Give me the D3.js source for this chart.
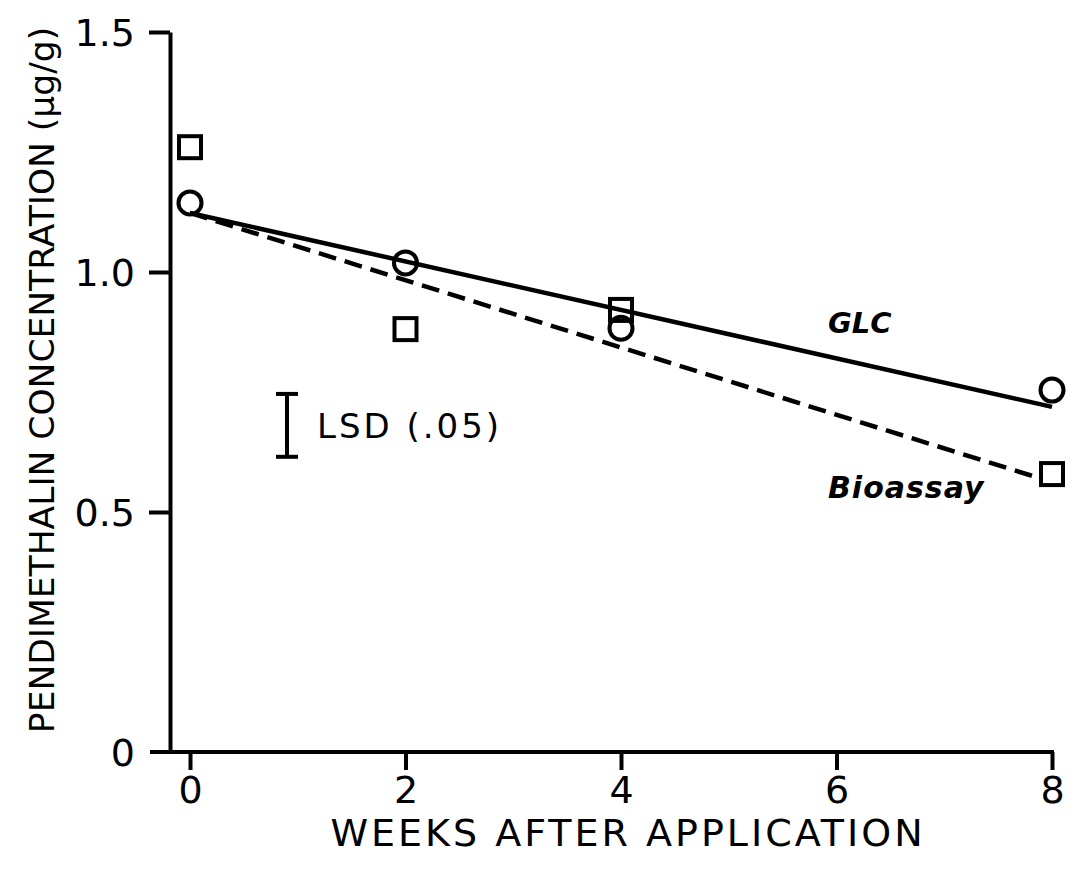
<!DOCTYPE html>
<html>
<head>
<meta charset="utf-8">
<script src="https://cdn.jsdelivr.net/npm/d3@7"></script>
<style>
  body { margin: 0; background: #fff; }
  svg { display: block; }
  .lbl { font-family: "DejaVu Sans", sans-serif; fill: #000; }
</style>
</head>
<body>
<svg id="chart" width="1081" height="876"></svg>
<script>
// weeks after application
const weeks = [0, 2, 4, 8];
// GLC (circles) and bioassay (squares), ug/g
const glcValues = [1.144, 1.019, 0.883, 0.754];
const bioValues = [1.26, 0.881, 0.921, 0.579];
// fitted regression lines, [week, value] end points
const glcFit = [[0, 1.123], [8, 0.719]];
const bioFit = [[0, 1.123], [7.85, 0.573]];
// LSD (.05) bar
const lsdWeek = 0.9;
const lsdRange = [0.615, 0.746];
const xTicks = [0, 2, 4, 6, 8];
const yTicks = [0, 0.5, 1.0, 1.5];
const yTickLabels = ["0", "0.5", "1.0", "1.5"];

const svg = d3.select("#chart");
const axisX = 170, axisY = 752;

const x = d3.scaleLinear().domain([0, 8]).range([190, 1052]);
const y = d3.scaleLinear().domain([0, 1.5]).range([axisY, 32]);

// y axis
const yAxis = svg.append("g")
    .attr("transform", `translate(${axisX},0)`)
    .call(d3.axisLeft(y)
        .tickValues(yTicks)
        .tickSize(21)
        .tickSizeOuter(0)
        .tickPadding(14)
        .tickFormat((d, i) => yTickLabels[i]));

// x axis
const xAxis = svg.append("g")
    .attr("transform", `translate(0,${axisY})`)
    .call(d3.axisBottom(x)
        .tickValues(xTicks)
        .tickSize(18)
        .tickSizeOuter(0)
        .tickPadding(6)
        .tickFormat(d3.format("d")));

// x axis baseline runs from left of the y axis to the last tick
xAxis.select(".domain")
    .attr("d", `M${axisX - 20},0H${x(8) + 2}`);

[yAxis, xAxis].forEach((g) => {
    g.select(".domain").attr("stroke", "#000").attr("stroke-width", 4);
    g.selectAll(".tick line").attr("stroke", "#000").attr("stroke-width", 4);
    g.selectAll(".tick text")
        .attr("class", "lbl")
        .style("font-family", '"DejaVu Sans", sans-serif')
        .style("font-size", "38px")
        .attr("fill", "#000");
});
yAxis.selectAll(".tick text").attr("dy", "0.36em");
xAxis.selectAll(".tick text").attr("dy", "0.72em");
yAxis.selectAll(".tick").filter((d) => d === 0).select("line").remove();

// fitted lines
const line = d3.line().x((d) => x(d[0])).y((d) => y(d[1]));

svg.append("path")
    .datum(glcFit)
    .attr("d", line)
    .attr("fill", "none")
    .attr("stroke", "#000")
    .attr("stroke-width", 4.5);

svg.append("path")
    .datum(bioFit)
    .attr("d", line)
    .attr("fill", "none")
    .attr("stroke", "#000")
    .attr("stroke-width", 4.5)
    .attr("stroke-dasharray", "18,9");

// markers
svg.append("g")
    .selectAll("circle")
    .data(weeks.map((w, i) => [w, glcValues[i]]))
    .join("circle")
    .attr("cx", (d) => x(d[0]))
    .attr("cy", (d) => y(d[1]))
    .attr("r", 11.5)
    .attr("fill", "none")
    .attr("stroke", "#000")
    .attr("stroke-width", 4);

const sq = 22;
svg.append("g")
    .selectAll("rect")
    .data(weeks.map((w, i) => [w, bioValues[i]]))
    .join("rect")
    .attr("x", (d) => x(d[0]) - sq / 2)
    .attr("y", (d) => y(d[1]) - sq / 2)
    .attr("width", sq)
    .attr("height", sq)
    .attr("fill", "none")
    .attr("stroke", "#000")
    .attr("stroke-width", 4);

// LSD bar
const lsd = svg.append("g").attr("stroke", "#000").attr("stroke-width", 4);
const lx = x(lsdWeek);
lsd.append("line")
    .attr("x1", lx).attr("x2", lx)
    .attr("y1", y(lsdRange[1])).attr("y2", y(lsdRange[0]));
lsdRange.forEach((v) => {
    lsd.append("line")
        .attr("x1", lx - 11).attr("x2", lx + 11)
        .attr("y1", y(v)).attr("y2", y(v));
});
svg.append("text")
    .attr("class", "lbl")
    .attr("x", lx + 30)
    .attr("y", y(d3.mean(lsdRange)))
    .attr("dy", "0.36em")
    .style("font-size", "34px")
    .style("letter-spacing", "3px")
    .text("LSD (.05)");

// series labels
svg.append("text")
    .attr("class", "lbl")
    .attr("x", 828)
    .attr("y", 333)
    .style("font-size", "29px")
    .style("font-weight", "bold")
    .style("font-style", "italic")
    .text("GLC");

svg.append("text")
    .attr("class", "lbl")
    .attr("x", 828)
    .attr("y", 498)
    .style("font-size", "30px")
    .style("font-weight", "bold")
    .style("font-style", "italic")
    .style("letter-spacing", "1px")
    .text("Bioassay");

// axis titles
svg.append("text")
    .attr("class", "lbl")
    .attr("x", 628)
    .attr("y", 846)
    .attr("text-anchor", "middle")
    .style("font-size", "38px")
    .style("letter-spacing", "3px")
    .text("WEEKS AFTER APPLICATION");

svg.append("text")
    .attr("class", "lbl")
    .attr("transform", "translate(54,380) rotate(-90)")
    .attr("text-anchor", "middle")
    .style("font-size", "34.5px")
    .text("PENDIMETHALIN CONCENTRATION (\u03bcg/g)");
</script>
</body>
</html>
